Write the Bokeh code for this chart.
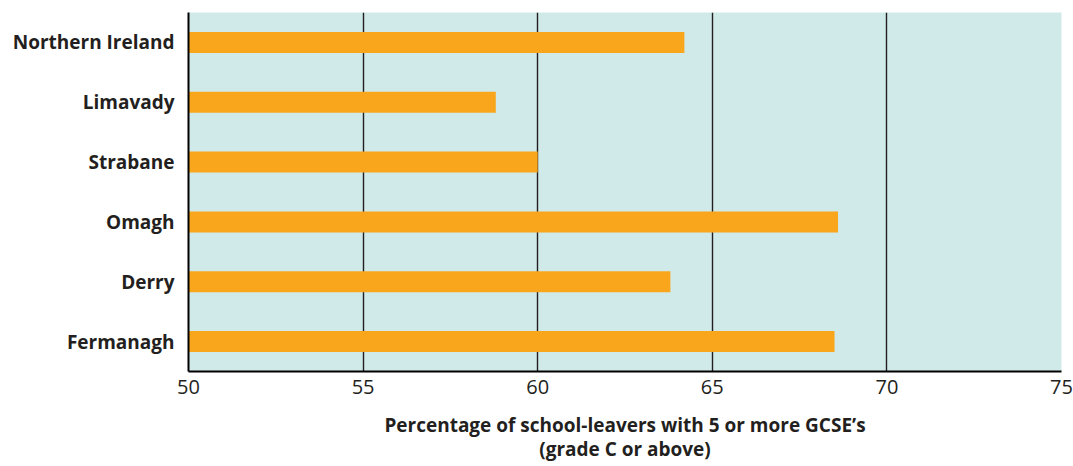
from bokeh.plotting import figure
from bokeh.models import FixedTicker, ColumnDataSource
from bokeh.embed import file_html
from bokeh.resources import INLINE

# Districts (top to bottom) and share of school-leavers with 5+ GCSEs at grade C or above
districts = ["Northern Ireland", "Limavady", "Strabane", "Omagh", "Derry", "Fermanagh"]
percentages = [64.2, 58.8, 60.0, 68.6, 63.8, 68.5]
x_ticks = [50, 55, 60, 65, 70, 75]

TEXT = "#231f20"
FONT = "Open Sans"

source = ColumnDataSource(data=dict(district=districts, pct=percentages))

p = figure(
    width=1073, height=466,
    y_range=list(reversed(districts)),
    x_range=(50, 75),
    output_backend="svg",
    toolbar_location=None,
    min_border_left=188, min_border_right=12,
    min_border_top=12, min_border_bottom=95,
)

p.hbar(y="district", left=50, right="pct", height=0.35,
       source=source, color="#f9a61c", line_color=None)

p.background_fill_color = "#d0e9e9"
p.border_fill_color = "white"
p.outline_line_color = None

# vertical reference lines
p.xgrid.ticker = FixedTicker(ticks=x_ticks)
p.xgrid.grid_line_color = TEXT
p.xgrid.grid_line_width = 1.4
p.ygrid.grid_line_color = None

# x axis
p.xaxis.ticker = FixedTicker(ticks=x_ticks)
p.xaxis.major_tick_line_color = None
p.xaxis.minor_tick_line_color = None
p.xaxis.major_tick_out = 0
p.xaxis.major_tick_in = 0
p.xaxis.axis_line_color = "black"
p.xaxis.axis_line_width = 2
p.xaxis.major_label_text_font = FONT
p.xaxis.major_label_text_font_size = "20px"
p.xaxis.major_label_text_color = TEXT
p.xaxis.major_label_standoff = 8
p.xaxis.axis_label = "Percentage of school-leavers with 5 or more GCSE\u2019s\n(grade C or above)"
p.xaxis.axis_label_text_font = FONT
p.xaxis.axis_label_text_font_style = "bold"
p.xaxis.axis_label_text_font_size = "19px"
p.xaxis.axis_label_text_line_height = 0.95
p.xaxis.axis_label_text_color = TEXT
p.xaxis.axis_label_standoff = 15

# y axis
p.yaxis.major_tick_line_color = None
p.yaxis.minor_tick_line_color = None
p.yaxis.major_tick_out = 0
p.yaxis.major_tick_in = 0
p.yaxis.axis_line_color = "black"
p.yaxis.axis_line_width = 2
p.yaxis.major_label_text_font = FONT
p.yaxis.major_label_text_font_style = "bold"
p.yaxis.major_label_text_font_size = "19px"
p.yaxis.major_label_text_color = TEXT
p.yaxis.major_label_standoff = 14

open("out.html", "w").write(file_html(p, INLINE))
